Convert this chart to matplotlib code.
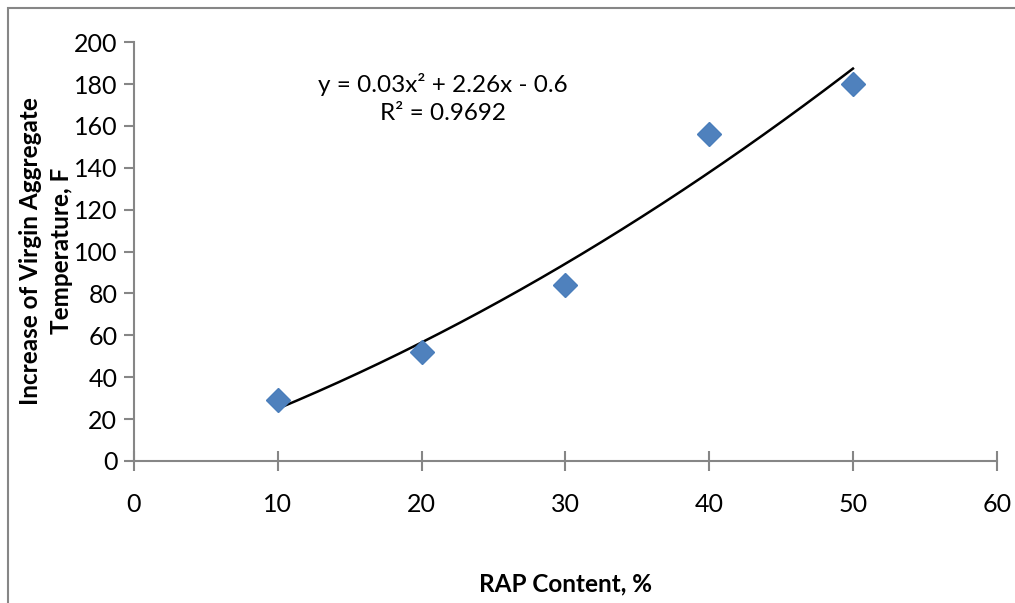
import matplotlib
matplotlib.use('Agg')
import matplotlib.pyplot as plt
from matplotlib.patches import Rectangle
import numpy as np

plt.rcParams['font.family'] = ['Lato', 'DejaVu Sans']

rap_content = [10, 20, 30, 40, 50]
temp_increase = [29, 52, 84, 156, 180]
poly_coef = [0.03, 2.26, -0.6]
r_squared = 0.9692
x_ticks = [0, 10, 20, 30, 40, 50, 60]
y_ticks = [0, 20, 40, 60, 80, 100, 120, 140, 160, 180, 200]

fig = plt.figure(figsize=(10.15, 6.03), dpi=100)
ax = fig.add_axes([0.132, 0.2355, 0.850, 0.6945])

grey = '#868686'

# polynomial trendline over the data range
xs = np.linspace(rap_content[0], rap_content[-1], 200)
ax.plot(xs, np.polyval(poly_coef, xs), color='black', lw=1.8, zorder=2)
ax.plot(rap_content, temp_increase, linestyle='none', marker='D',
        ms=12, color='#4F81BD', mec='#4A7EBB', zorder=3)

ax.set_xlim(0, 60)
ax.set_ylim(0, 200)
ax.set_xticks(x_ticks)
ax.set_yticks(y_ticks)
ax.tick_params(labelsize=18, color=grey, width=1.5, length=7)
ax.tick_params(axis='x', direction='inout', length=14, pad=16)
ax.tick_params(axis='y', direction='out', pad=5)

for side in ['top', 'right']:
    ax.spines[side].set_visible(False)
for side in ['left', 'bottom']:
    ax.spines[side].set_color(grey)
    ax.spines[side].set_linewidth(1.5)

ax.set_xlabel('RAP Content, %', fontsize=17.5, fontweight='bold', labelpad=41)
fig.text(0.0455, 1 - 251 / 603, 'Increase of Virgin Aggregate\nTemperature, F',
         rotation=90, fontsize=17.5, fontweight='bold', ha='center',
         va='center', linespacing=1.45)

eq = 'y = {:.2f}x\u00b2 + {:.2f}x - {:.1f}'.format(poly_coef[0], poly_coef[1],
                                                 -poly_coef[2])
ax.text(0.358, 0.866, eq + '\nR\u00b2 = {:.4f}'.format(r_squared),
        transform=ax.transAxes, fontsize=17.5, ha='center', va='center',
        linespacing=1.4, multialignment='center')

fig.patches.append(Rectangle((0.008, -0.1), 1.2, 1.087, transform=fig.transFigure,
                             fill=False, edgecolor=grey, lw=1.5))

fig.savefig('out.png', dpi=100)
